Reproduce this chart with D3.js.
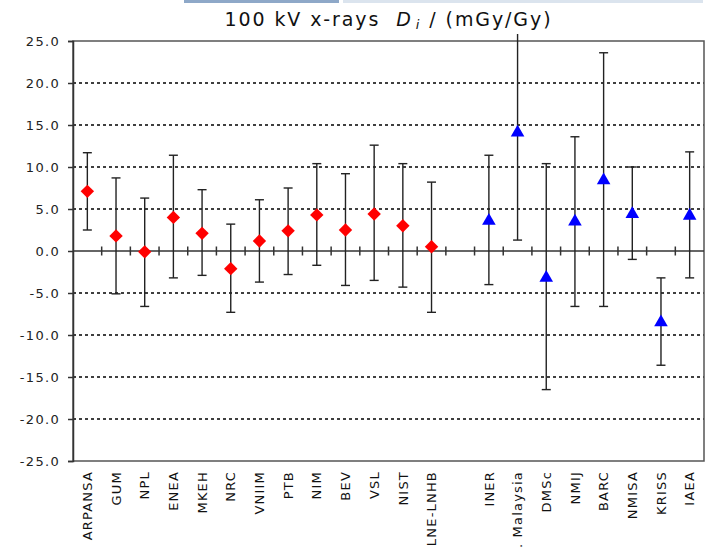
<!DOCTYPE html>
<html>
<head>
<meta charset="utf-8">
<script src="https://cdn.jsdelivr.net/npm/d3@7"></script>
<style>
  body { margin: 0; background: #fff; }
  text { font-family: "DejaVu Sans", Verdana, sans-serif; }
</style>
</head>
<body>
<div id="chart"></div>
<script>
// lab names and values (mGy/Gy)
const redLabs = ['ARPANSA', 'GUM', 'NPL', 'ENEA', 'MKEH', 'NRC', 'VNIIM', 'PTB', 'NIM', 'BEV', 'VSL', 'NIST', 'LNE-LNHB']
const redVals = [7.1, 1.8, -0.1, 4.0, 2.1, -2.1, 1.2, 2.4, 4.3, 2.5, 4.4, 3.0, 0.5]
const redUp   = [11.7, 8.7, 6.3, 11.4, 7.3, 3.2, 6.1, 7.5, 10.4, 9.2, 12.6, 10.4, 8.2]
const redLo   = [2.5, -5.1, -6.6, -3.2, -2.9, -7.3, -3.7, -2.8, -1.7, -4.1, -3.5, -4.3, -7.3]

const blueLabs = ['INER', 'Nucl. Malaysia', 'DMSc', 'NMIJ', 'BARC', 'NMISA', 'KRISS', 'IAEA']
const blueVals = [3.6, 14.1, -3.2, 3.5, 8.4, 4.4, -8.5, 4.2]
const blueUp   = [11.4, 27.0, 10.4, 13.6, 23.6, 10.0, -3.2, 11.8]
const blueLo   = [-4.0, 1.3, -16.5, -6.6, -6.6, -1.0, -13.6, -3.2]

const yTicks = [-25, -20, -15, -10, -5, 0, 5, 10, 15, 20, 25]
const yDomain = [-25, 25]

const margins = { top: 41, right: 5, bottom: 87, left: 73 }
const width = 709
const height = 548
const innerW = width - margins.left - margins.right
const innerH = height - margins.top - margins.bottom

const svg = d3.select('#chart').append('svg')
    .attr('width', width)
    .attr('height', height)

// browser tab strip left over in the screenshot
svg.append('rect').attr('x', 184).attr('y', 0).attr('width', 155).attr('height', 3).attr('fill', '#8ea8c8')
svg.append('rect').attr('x', 343).attr('y', 0).attr('width', 360).attr('height', 3).attr('fill', '#dbe4ee')

const cats = redLabs.concat(['_gap'], blueLabs)

const xScale = d3.scaleBand().domain(cats).range([0, innerW]).padding(0)
const yScale = d3.scaleLinear().domain(yDomain).range([innerH, 0])

const chart_area = svg.append('g')
    .attr('transform', 'translate(' + margins.left + ',' + margins.top + ')')

// dashed grid
chart_area.append('g')
    .selectAll('line')
    .data(yTicks.filter(d => d != 0 && d != yDomain[0] && d != yDomain[1]))
    .join('line')
    .attr('x1', 0)
    .attr('x2', innerW)
    .attr('y1', d => yScale(d))
    .attr('y2', d => yScale(d))
    .attr('stroke', '#000')
    .attr('stroke-width', 1.3)
    .attr('stroke-dasharray', '3,3')

// frame
chart_area.append('rect')
    .attr('width', innerW)
    .attr('height', innerH)
    .attr('fill', 'none')
    .attr('stroke', '#555')
    .attr('stroke-width', 1.5)

// y axis
const yAxis = chart_area.append('g')
    .call(d3.axisLeft(yScale).tickValues(yTicks).tickFormat(d3.format('.1f')).tickSize(5).tickPadding(8))
yAxis.select('.domain').attr('stroke', '#333').attr('stroke-width', 1.5)
yAxis.selectAll('line').attr('stroke', '#333').attr('stroke-width', 1.5)
yAxis.selectAll('text')
    .attr('font-size', 13)
    .attr('letter-spacing', '1.3px')
    .attr('fill', '#222')
    .text(d => d3.format('.1f')(d).replace('−', '-'))

// zero line with ticks at the category boundaries
const y0 = yScale(0)
chart_area.append('line')
    .attr('x1', 0).attr('x2', innerW)
    .attr('y1', y0).attr('y2', y0)
    .attr('stroke', '#333').attr('stroke-width', 1.5)
chart_area.append('g')
    .selectAll('line')
    .data(cats.slice(1))
    .join('line')
    .attr('x1', d => xScale(d))
    .attr('x2', d => xScale(d))
    .attr('y1', y0 - 4.5)
    .attr('y2', y0 + 4.5)
    .attr('stroke', '#333').attr('stroke-width', 1.5)

// category labels
svg.append('g')
    .attr('transform', 'translate(' + margins.left + ',' + (height - margins.bottom) + ')')
    .selectAll('text')
    .data(cats.filter(c => c != '_gap'))
    .join('text')
    .attr('transform', d => 'translate(' + (xScale(d) + xScale.bandwidth() / 2) + ',10) rotate(-90)')
    .attr('text-anchor', 'end')
    .attr('dy', '0.36em')
    .attr('font-size', 13)
    .attr('letter-spacing', '1.2px')
    .attr('fill', '#111')
    .text(d => d)

// error bars, clipped a bit above the frame
svg.append('clipPath').attr('id', 'clip')
    .append('rect')
    .attr('x', -5).attr('y', -7)
    .attr('width', innerW + 10).attr('height', innerH + 7)

function series(labs, vals, up, lo) {
    return labs.map((l, i) => ({ lab: l, v: vals[i], up: up[i], lo: lo[i] }))
}
const redData = series(redLabs, redVals, redUp, redLo)
const blueData = series(blueLabs, blueVals, blueUp, blueLo)
const allData = redData.concat(blueData)

const bars = chart_area.append('g').attr('clip-path', 'url(#clip)')
const cx = d => xScale(d.lab) + xScale.bandwidth() / 2
const capW = 4.5

bars.selectAll('line.stem')
    .data(allData)
    .join('line')
    .attr('class', 'stem')
    .attr('x1', cx).attr('x2', cx)
    .attr('y1', d => yScale(d.up))
    .attr('y2', d => yScale(d.lo))
bars.selectAll('line.capu')
    .data(allData)
    .join('line')
    .attr('class', 'capu')
    .attr('x1', d => cx(d) - capW).attr('x2', d => cx(d) + capW)
    .attr('y1', d => yScale(d.up)).attr('y2', d => yScale(d.up))
bars.selectAll('line.capl')
    .data(allData)
    .join('line')
    .attr('class', 'capl')
    .attr('x1', d => cx(d) - capW).attr('x2', d => cx(d) + capW)
    .attr('y1', d => yScale(d.lo)).attr('y2', d => yScale(d.lo))
bars.selectAll('line').attr('stroke', '#222').attr('stroke-width', 1.4)

// markers
chart_area.append('g')
    .selectAll('path')
    .data(redData)
    .join('path')
    .attr('d', d3.symbol(d3.symbolSquare, 90))
    .attr('transform', d => 'translate(' + cx(d) + ',' + yScale(d.v) + ') rotate(45)')
    .attr('fill', '#ff0000')

chart_area.append('g')
    .selectAll('path')
    .data(blueData)
    .join('path')
    .attr('d', d3.symbol(d3.symbolTriangle, 80))
    .attr('transform', d => 'translate(' + cx(d) + ',' + yScale(d.v) + ')')
    .attr('fill', '#0000ff')

// title
const title = svg.append('text')
    .attr('x', margins.left + innerW / 2)
    .attr('y', 26)
    .attr('text-anchor', 'middle')
    .attr('font-size', 19)
    .attr('letter-spacing', '1.9px')
    .attr('fill', '#111')
title.append('tspan').text('100 kV x-rays')
title.append('tspan').attr('dx', 16).attr('font-style', 'italic').text('D')
title.append('tspan').attr('dx', 3).attr('dy', 3).attr('font-style', 'italic').attr('font-size', 13).text('i')
title.append('tspan').attr('dx', 8).attr('dy', -3).text('/ (mGy/Gy)')
</script>
</body>
</html>
